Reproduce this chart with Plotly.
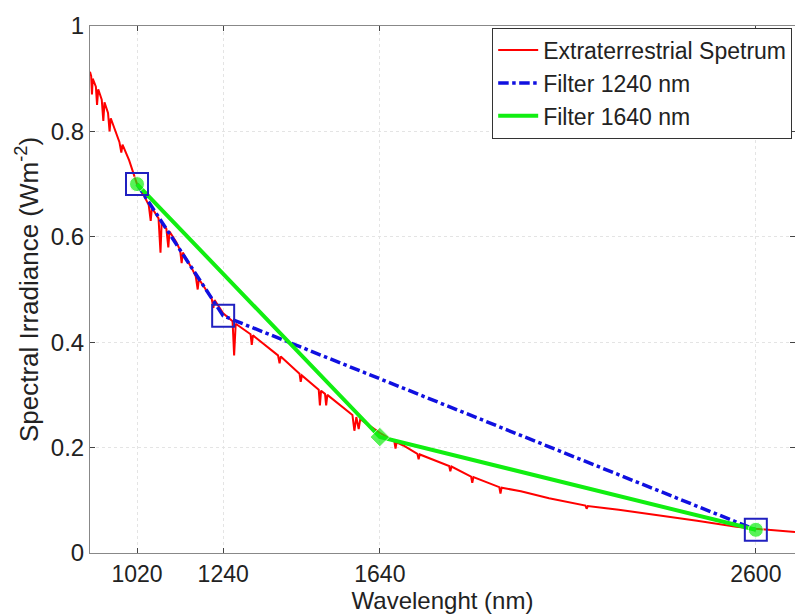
import plotly.graph_objects as go

# Extraterrestrial spectrum (absorption spikes included)
spec_wl = [900, 903, 905, 907, 915, 918, 921, 930, 934, 937, 946, 950, 953, 965, 975, 980, 983,
           1000, 1020, 1040, 1050, 1055, 1058, 1075, 1080, 1083, 1095, 1100, 1103, 1120, 1130,
           1134, 1137, 1160, 1170, 1175, 1178, 1200, 1210, 1215, 1218, 1240, 1264, 1268, 1272,
           1310, 1313, 1316, 1380, 1384, 1387, 1435, 1438, 1441, 1484, 1487, 1490, 1500, 1503,
           1506, 1570, 1575, 1580, 1586, 1590, 1640, 1677, 1680, 1683, 1700, 1736, 1739, 1742,
           1817, 1820, 1823, 1873, 1876, 1879, 1945, 1948, 1951, 2000, 2072, 2150, 2165, 2168,
           2171, 2250, 2350, 2450, 2550, 2600, 2700]
spec_val = [0.913, 0.905, 0.87, 0.90, 0.885, 0.85, 0.88, 0.86, 0.82, 0.855, 0.835, 0.80, 0.825,
            0.80, 0.78, 0.76, 0.775, 0.745, 0.70, 0.675, 0.66, 0.63, 0.655, 0.635, 0.57, 0.628,
            0.615, 0.58, 0.61, 0.59, 0.575, 0.55, 0.57, 0.54, 0.525, 0.50, 0.52, 0.495, 0.485,
            0.465, 0.48, 0.455, 0.44, 0.375, 0.435, 0.415, 0.395, 0.413, 0.375, 0.36, 0.373,
            0.34, 0.325, 0.337, 0.31, 0.28, 0.308, 0.302, 0.28, 0.30, 0.262, 0.232, 0.258,
            0.235, 0.254, 0.228, 0.212, 0.198, 0.21, 0.204, 0.188, 0.178, 0.187, 0.165, 0.155,
            0.164, 0.145, 0.133, 0.144, 0.125, 0.113, 0.124, 0.117, 0.104, 0.092, 0.09, 0.084,
            0.089, 0.082, 0.072, 0.061, 0.05, 0.046, 0.04]

f1240_wl = [1020, 1240, 2600]
f1240_val = [0.70, 0.45, 0.044]
f1640_wl = [1020, 1640, 2600]
f1640_val = [0.70, 0.22, 0.044]

x_ticks = [1020, 1240, 1640, 2600]
y_ticks = [0, 0.2, 0.4, 0.6, 0.8, 1]
y_ticklabels = ["0", "0.2", "0.4", "0.6", "0.8", "1"]

FONT = "Liberation Sans, Arial, Helvetica, sans-serif"

fig = go.Figure()
fig.add_trace(go.Scatter(x=spec_wl, y=spec_val, mode="lines", name="Extraterrestrial Spetrum",
                         line=dict(color="#ff0000", width=2)))
fig.add_trace(go.Scatter(x=f1240_wl, y=f1240_val, mode="lines", name="Filter 1240 nm",
                         line=dict(color="#1010e0", width=3.5, dash="dashdot")))
fig.add_trace(go.Scatter(x=f1640_wl, y=f1640_val, mode="lines", name="Filter 1640 nm",
                         line=dict(color="#11ee11", width=4)))
fig.add_trace(go.Scatter(x=f1640_wl, y=f1640_val, mode="markers", showlegend=False,
                         marker=dict(symbol=["circle", "diamond", "circle"], size=[15, 15, 15],
                                     color="#11ee11")))
fig.add_trace(go.Scatter(x=f1240_wl, y=f1240_val, mode="markers", showlegend=False,
                         marker=dict(symbol="square-open", size=22, color="#2020c0",
                                     line=dict(width=2, color="#2020c0"))))

fig.update_layout(
    width=795, height=614,
    margin=dict(l=90, r=0, t=26, b=61),
    paper_bgcolor="white", plot_bgcolor="white",
    font=dict(family=FONT, size=23, color="#222"),
    legend=dict(x=0.996, y=0.997, xanchor="right", yanchor="top",
                bgcolor="white", bordercolor="#333", borderwidth=1,
                font=dict(size=23), tracegroupgap=0, itemwidth=40),
)
fig.update_xaxes(range=[900, 2700], tickvals=x_ticks, ticks="inside", ticklen=5,
                 showline=True, linecolor="#888", linewidth=1, mirror="ticks",
                 showgrid=True, gridcolor="#e4e4e4", griddash="dot", gridwidth=1,
                 zeroline=False, tickfont=dict(size=23),
                 title=dict(text="Wavelenght (nm)", font=dict(size=24), standoff=2))
fig.update_yaxes(range=[0, 1], tickvals=y_ticks, ticktext=y_ticklabels, ticks="inside", ticklen=5,
                 showline=True, linecolor="#888", linewidth=1, mirror="ticks",
                 showgrid=True, gridcolor="#e4e4e4", griddash="dot", gridwidth=1,
                 zeroline=False, tickfont=dict(size=24),
                 title=dict(text="Spectral Irradiance (Wm<sup>-2</sup>)", font=dict(size=26), standoff=4))

fig.write_html("out.html")
